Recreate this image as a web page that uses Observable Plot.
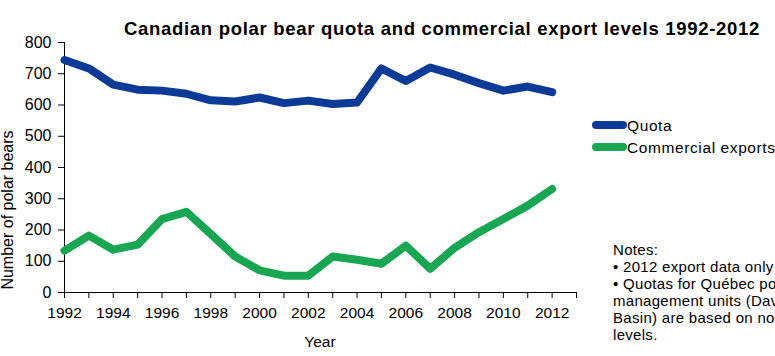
<!DOCTYPE html>
<html>
<head>
<meta charset="utf-8">
<script src="https://cdn.jsdelivr.net/npm/d3@7"></script>
<script src="https://cdn.jsdelivr.net/npm/@observablehq/plot@0.6"></script>
<style>
  html, body { margin: 0; padding: 0; background: #fff; overflow: hidden; }
  #chart { width: 775px; height: 356px; overflow: hidden; position: relative; }
  svg { overflow: hidden; }
</style>
</head>
<body>
<div id="chart"></div>
<script>
const years = [1992,1993,1994,1995,1996,1997,1998,1999,2000,2001,2002,2003,2004,2005,2006,2007,2008,2009,2010,2011,2012];
const quota = [744,717,665,649,646,636,615,611,624,606,614,603,608,717,677,720,697,670,646,659,641];
const exportsCom = [134,182,137,153,235,258,187,115,71,54,54,115,105,92,150,76,143,193,235,278,331];
const xTicks = [1992,1993,1994,1995,1996,1997,1998,1999,2000,2001,2002,2003,2004,2005,2006,2007,2008,2009,2010,2011,2012,2013];
const yTicks = [0,100,200,300,400,500,600,700,800];
const seriesNames = ["Quota", "Commercial exports"];
const seriesColors = ["#0b3a97", "#18a653"];
const titleText = "Canadian polar bear quota and commercial export levels 1992-2012";
const xLabel = "Year";
const yLabel = "Number of polar bears";
const notes = [
  "Notes:",
  "\u2022 2012 export data only preliminary",
  "\u2022 Quotas for Qu\u00e9bec polar bear",
  "management units (Davis Strait, Foxe",
  "Basin) are based on non-quota",
  "levels."
];

const rows = [];
years.forEach((yr, i) => {
  rows.push({year: yr, value: quota[i], series: seriesNames[0]});
});
years.forEach((yr, i) => {
  rows.push({year: yr, value: exportsCom[i], series: seriesNames[1]});
});

const font = "'Liberation Sans', Arial, sans-serif";

const chart = Plot.plot({
  width: 775,
  height: 356,
  marginLeft: 64,
  marginTop: 42,
  marginBottom: 64,
  marginRight: 199,
  style: {fontFamily: font, fontSize: "15.5px", color: "#000", background: "#fff", overflow: "hidden"},
  x: {domain: [1992, 2013]},
  y: {domain: [0, 800]},
  color: {domain: seriesNames, range: seriesColors},
  marks: [
    Plot.axisX({ticks: xTicks, tickFormat: d => d % 2 === 0 ? String(d) : "", tickSize: 6, tickPadding: 8, label: null, fontSize: 15.5, stroke: "#000"}),
    Plot.axisY({ticks: yTicks, tickSize: 6, tickPadding: 7, label: null, fontSize: 16, tickFormat: d => String(d)}),
    Plot.ruleX([1992], {stroke: "#000"}),
    Plot.ruleY([0], {stroke: "#000"}),
    Plot.line(rows, {x: "year", y: "value", stroke: "series", z: "series", strokeWidth: 8, strokeLinejoin: "round", strokeLinecap: "round"})
  ]
});

document.getElementById("chart").appendChild(chart);

const svg = d3.select(chart);

svg.append("text")
  .attr("x", 442).attr("y", 35)
  .attr("text-anchor", "middle")
  .attr("font-family", font).attr("font-weight", "bold").attr("font-size", 18.5)
  .attr("letter-spacing", "0.7px")
  .attr("fill", "#000")
  .text(titleText);

svg.append("text")
  .attr("x", 320).attr("y", 347)
  .attr("text-anchor", "middle")
  .attr("font-family", font).attr("font-size", 15.5)
  .attr("fill", "#000")
  .text(xLabel);

svg.append("text")
  .attr("transform", "translate(13,210) rotate(-90)")
  .attr("text-anchor", "middle")
  .attr("font-family", font).attr("font-size", 16)
  .attr("fill", "#000")
  .text(yLabel);

// legend
const legY = [125, 147];
seriesNames.forEach((name, i) => {
  svg.append("line")
    .attr("x1", 596).attr("x2", 623)
    .attr("y1", legY[i]).attr("y2", legY[i])
    .attr("stroke", seriesColors[i]).attr("stroke-width", 8)
    .attr("stroke-linecap", "round");
  svg.append("text")
    .attr("x", 627).attr("y", legY[i] + 5.5)
    .attr("text-anchor", "start")
    .attr("font-family", font).attr("font-size", 15.5)
    .attr("letter-spacing", "0.6px")
    .attr("fill", "#000")
    .text(name);
});

// notes
notes.forEach((line, i) => {
  svg.append("text")
    .attr("x", 613).attr("y", 255 + i * 17)
    .attr("text-anchor", "start")
    .attr("font-family", font).attr("font-size", 15)
    .attr("letter-spacing", "0.3px")
    .attr("fill", "#000")
    .text(line);
});
</script>
</body>
</html>
